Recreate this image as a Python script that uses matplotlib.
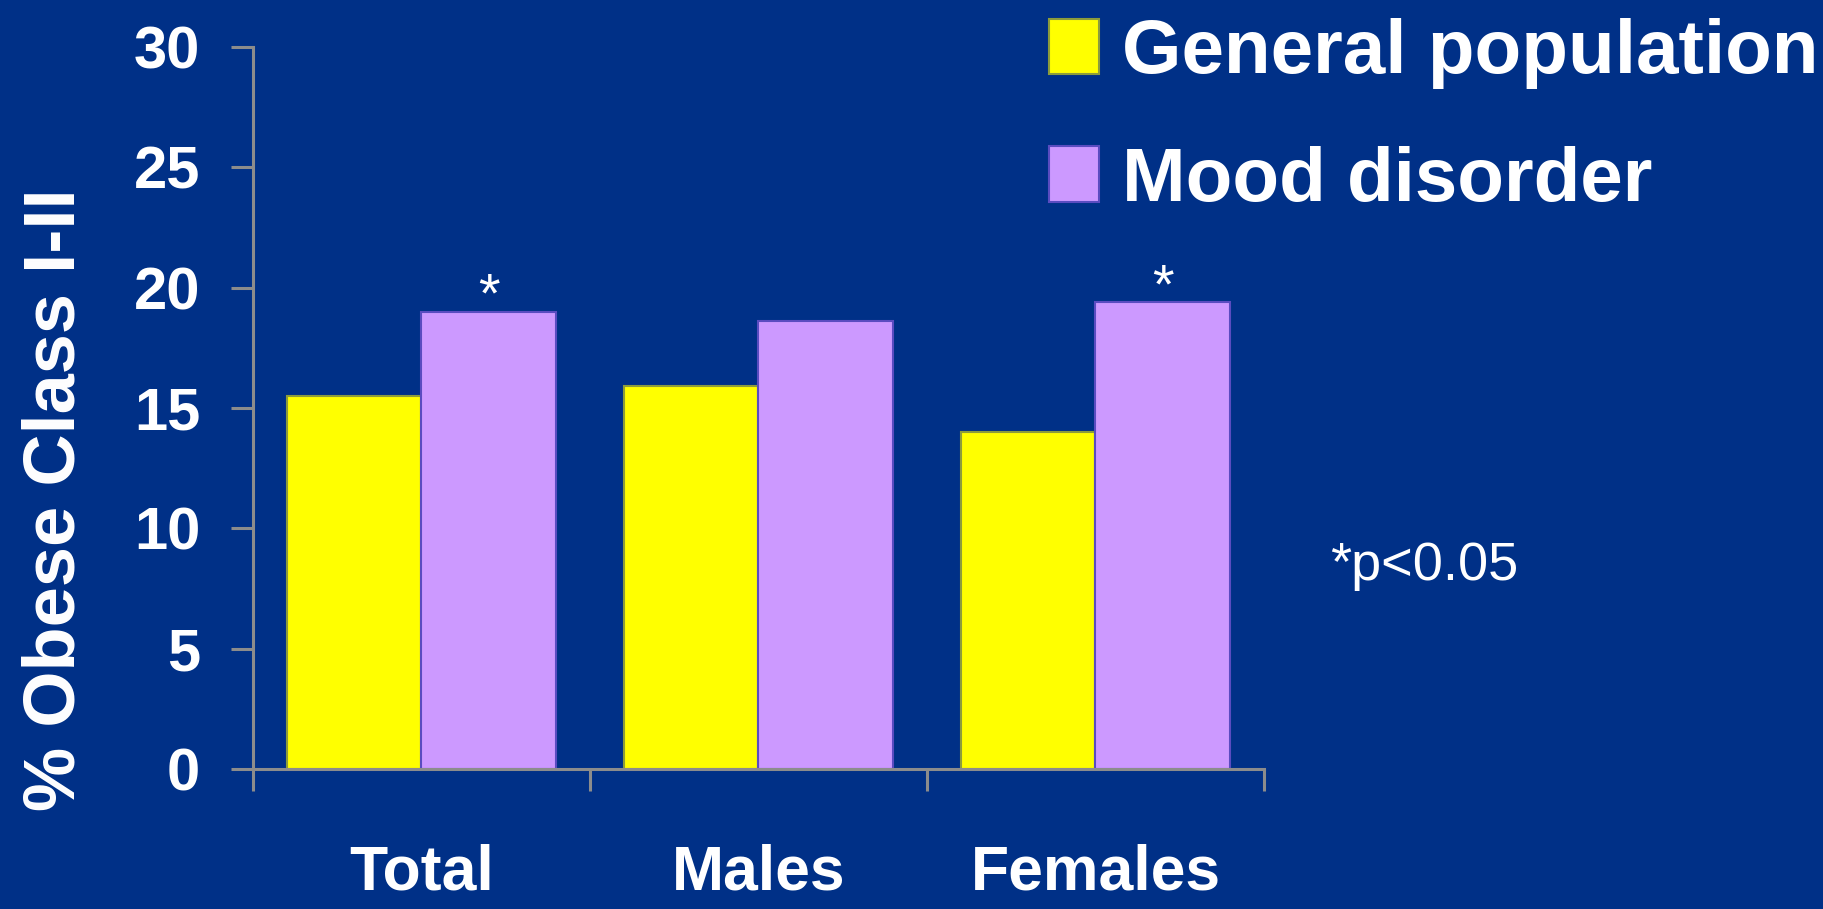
import matplotlib
matplotlib.use("Agg")
import matplotlib.pyplot as plt
import numpy as np

categories = ["Total", "Males", "Females"]
general_population = [15.5, 15.9, 14.0]
mood_disorder = [19.0, 18.6, 19.4]
significant = [True, False, True]
y_ticks = [0, 5, 10, 15, 20, 25, 30]

bg = "#003087"
axis_gray = "#8c8c8c"
font = ["Liberation Sans", "DejaVu Sans"]

fig = plt.figure(figsize=(18.24, 9.09), dpi=100, facecolor=bg)
ax = fig.add_axes([253 / 1824, 140 / 909, 1011 / 1824, 722 / 909])
ax.set_facecolor(bg)

x = np.arange(len(categories))
w = 0.4
b1 = ax.bar(x - w / 2, general_population, w, color="#ffff00",
            edgecolor="#8c9c3c", linewidth=1.5, label="General population")
b2 = ax.bar(x + w / 2, mood_disorder, w, color="#cc99ff",
            edgecolor="#5a4cc0", linewidth=1.5, label="Mood disorder")

# significance stars
for xi, v, s in zip(x, mood_disorder, significant):
    if s:
        ax.text(xi + w / 2, v, "*", ha="center", va="baseline",
                color="white", fontsize=40, family=font)

ax.set_xlim(-0.5, 2.5)
ax.set_ylim(0, 30)
for side in ["top", "right"]:
    ax.spines[side].set_visible(False)
for side in ["left", "bottom"]:
    ax.spines[side].set_color(axis_gray)
    ax.spines[side].set_linewidth(2.2)

ax.set_yticks(y_ticks)
ax.set_yticklabels([str(t) for t in y_ticks], family=font,
                   fontweight="bold", fontsize=43, color="white")
ax.tick_params(axis="y", direction="out", length=16, width=2.2,
               color=axis_gray, pad=22)

ax.set_xticks([-0.5, 0.5, 1.5, 2.5])
ax.set_xticklabels([])
ax.tick_params(axis="x", which="major", direction="out", length=16,
               width=2.2, color=axis_gray)
ax.set_xticks(x, minor=True)
ax.set_xticklabels(categories, minor=True, family=font,
                   fontweight="bold", fontsize=45, color="white")
ax.tick_params(axis="x", which="minor", length=0, pad=54)

fig.text(56 / 1824, 1 - 500 / 909, "% Obese Class I-II", rotation=90,
         ha="center", va="center", color="white", fontsize=52,
         fontweight="bold", family=font)

fig.text(1330 / 1824, 1 - 580 / 909, "*p<0.05", ha="left", va="baseline",
         color="white", fontsize=39, family=font)

leg = ax.legend(handles=[b1, b2], loc="upper left",
                bbox_to_anchor=(1049 / 1824, 1 - 18 / 909),
                bbox_transform=fig.transFigure, frameon=False,
                borderpad=0, borderaxespad=0, handlelength=0.66,
                handleheight=0.74, handletextpad=0.3, labelspacing=0.74,
                prop={"family": font, "weight": "bold", "size": 55})
for t in leg.get_texts():
    t.set_color("white")

fig.savefig("out.png", dpi=100, facecolor=bg)
